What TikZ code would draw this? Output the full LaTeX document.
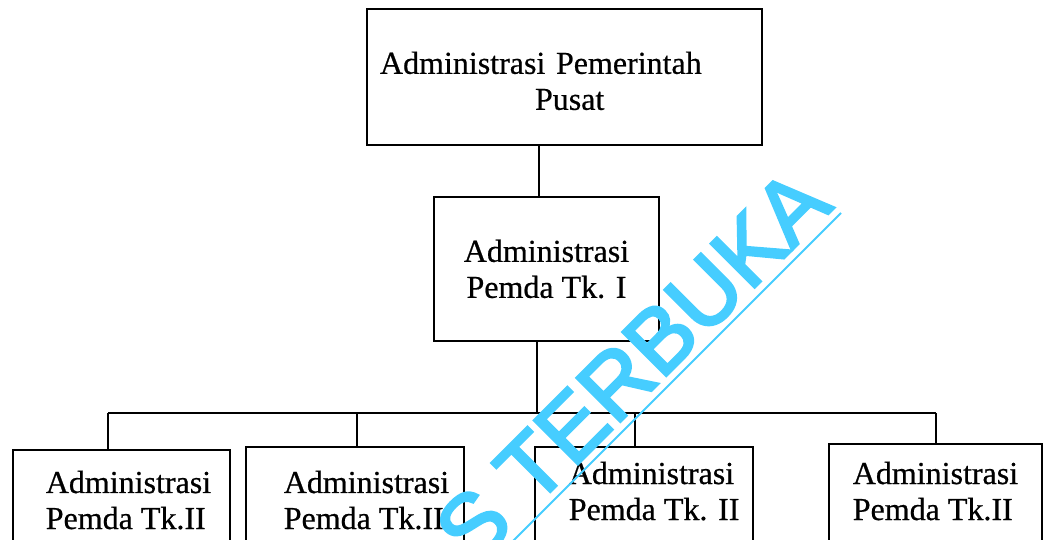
\documentclass[tikz,border=0pt]{standalone}
\usepackage{fontspec}
\setmainfont[FakeBold=0.6]{Liberation Serif}
\newfontfamily\wmfont[FakeBold=3]{Liberation Sans}
\usetikzlibrary{positioning}
\definecolor{wmcyan}{RGB}{70,205,255}

\begin{document}
\begin{tikzpicture}[x=1pt,y=1pt,line width=1.6pt,
    box/.style={draw,font=\fontsize{32}{36}\selectfont},
    kab/.style={draw,anchor=north west,minimum height=120pt},
    kabtext/.style={anchor=north west,inner sep=0pt,align=left,font=\fontsize{32}{36}\selectfont}]
  \useasboundingbox (0,0) rectangle (1044,540);
  \clip (0,0) rectangle (1044,540);
  \node[box,minimum width=395pt,minimum height=136pt,text width=369pt,inner xsep=13pt,align=left,text height=30pt] (pusat) at (564.5,463)
    {Administrasi Pemerintah\\\hspace*{155pt}Pusat};
  \node[box,minimum width=225pt,minimum height=144pt,align=center] (tki) at (546.5,271) {Administrasi\\Pemda Tk. I};
  \node[kab,minimum width=217pt] (k1) at (12,91) {};
  \node[kab,minimum width=218pt] (k2) at (245,94) {};
  \node[kab,minimum width=218pt] (k3) at (534,94) {};
  \node[kab,minimum width=213pt] (k4) at (828,97) {};
  \node[kabtext,below right=21pt and 33pt of k1.north west] (t1) {Administrasi\\Pemda Tk.II};
  \node[kabtext,below right=24pt and 38pt of k2.north west] (t2) {Administrasi\\Pemda Tk.II};
  \node[kabtext,below right=15pt and 34pt of k3.north west] (t3) {Administrasi\\Pemda Tk. II};
  \node[kabtext,below right=18pt and 24pt of k4.north west] (t4) {Administrasi\\Pemda Tk.II};
  \coordinate (c0) at (539,0);
  \coordinate (bus) at (537,127);
  \coordinate (b1) at (108,127);
  \coordinate (b2) at (357,127);
  \coordinate (b3) at (635,127);
  \coordinate (b4) at (936,127);
  \draw (pusat.south -| c0) -- (tki.north -| c0);
  \draw (tki.south -| bus) -- (bus);
  \draw (b1) -- (b4);
  \foreach \i in {1,...,4}
    \draw (b\i) -- (b\i |- k\i.north);
  % watermark
  \node[rotate=45,anchor=base east,inner sep=0pt,text=wmcyan,font=\wmfont\fontsize{90}{90}\selectfont] (wm) at (835,333) {AS TERBUKA};
  \draw[wmcyan,line width=2pt] (wm.base east) ++(6,-6) -- ++(-400,-400);
\end{tikzpicture}
\end{document}
